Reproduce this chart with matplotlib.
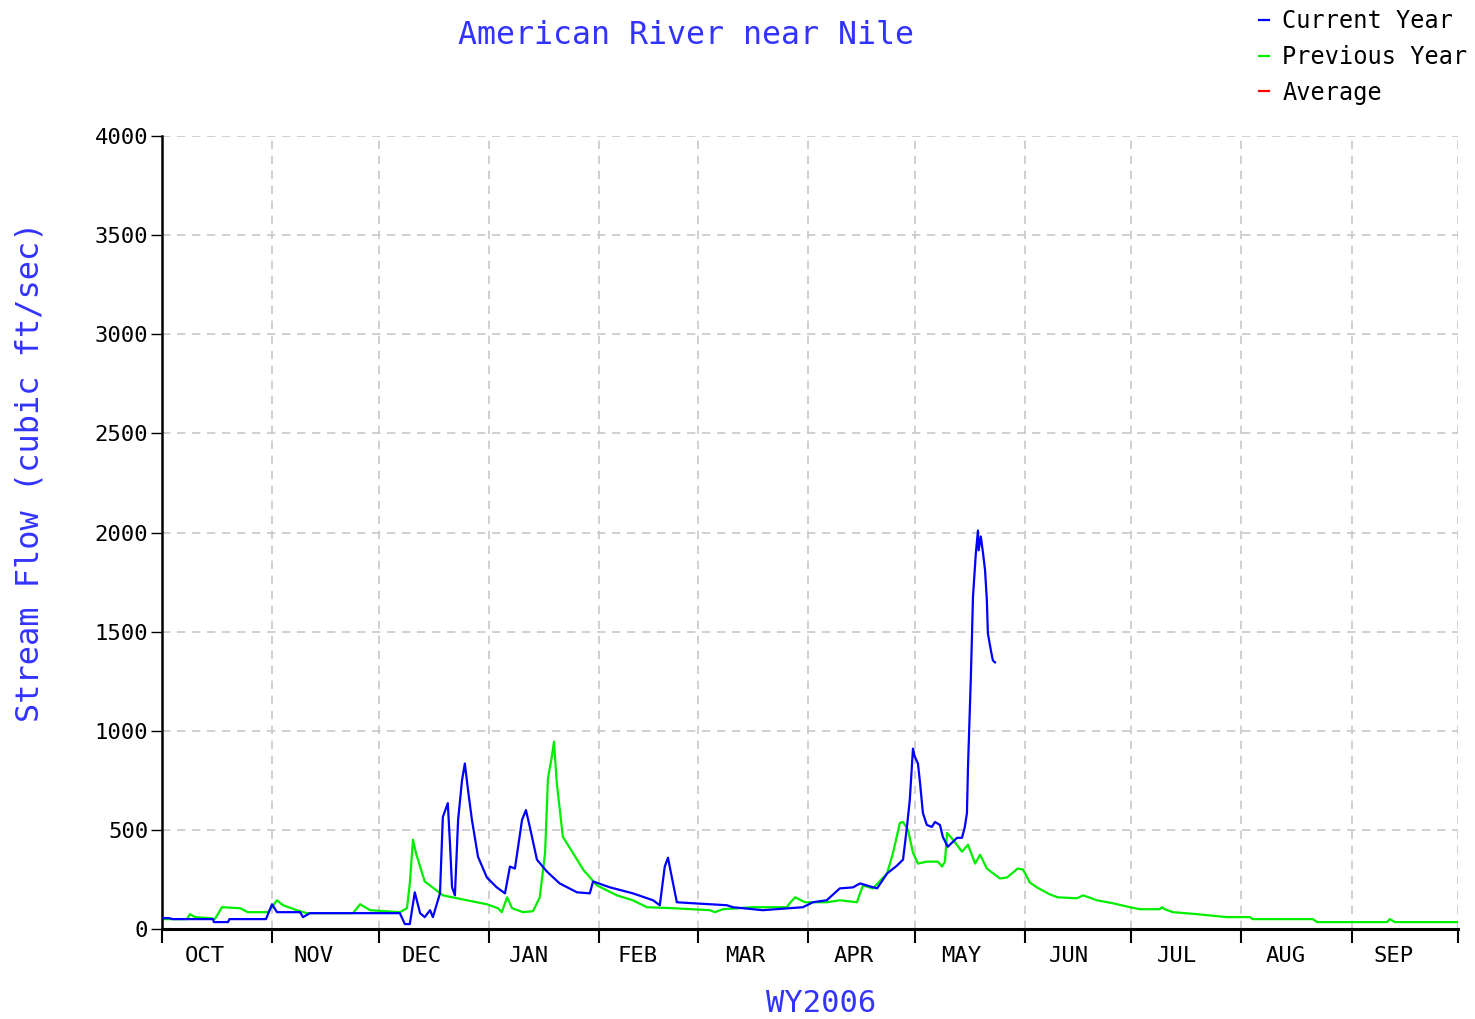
import numpy as np
import matplotlib
matplotlib.use("Agg")
import matplotlib.pyplot as plt

# water-year day (0 = Oct 1) and flow in cfs
cur_day = [0, 2, 3, 14.4, 14.6, 18.6, 19, 29.3, 31, 32.4, 38.9, 39.7, 41.7, 55.8, 67,
           68.4, 69.8, 71.2, 72.7, 74, 75.5, 76.3, 78.3, 79.1, 80.5, 81.1, 81.7, 82.5,
           83.4, 84.5, 85.3, 86.2, 87.3, 89, 91.5, 94.3, 96.6, 98, 99.4, 101.4, 102.5,
           103.6, 105.6, 108.4, 112, 116.9, 120.5, 121.4, 126.2, 132.6, 138.3, 140.2,
           141.6, 142.5, 143.6, 145, 149.5, 159.1, 160.8, 169.2, 180.5, 183.3, 187.2,
           190.9, 194.6, 196.6, 199.4, 201.4, 204.2, 207, 208.7, 209.8, 210.6, 211.5,
           212, 212.9, 213.5, 214.3, 215.4, 216.8, 217.7, 219.1, 219.9, 221.3, 223.9,
           225.3, 226.1, 226.7, 227, 227.8, 228.4, 229.2, 229.8, 230, 230.6, 231.2,
           231.8, 232.3, 232.6, 233.5, 234, 234.6]
cur_flow = [55, 55, 50, 50, 35, 35, 50, 50, 125, 85, 85, 60, 80, 80, 80,
            25, 25, 185, 80, 60, 95, 60, 180, 565, 635, 435, 210, 170,
            550, 750, 835, 700, 550, 365, 260, 210, 180, 315, 305, 550, 600,
            515, 350, 290, 230, 185, 180, 240, 210, 180, 145, 120,
            315, 360, 260, 135, 130, 120, 110, 95, 110, 135, 145,
            205, 210, 230, 215, 205, 280, 320, 350, 515, 650, 910,
            870, 835, 735, 585, 525, 515, 540, 525, 465, 415, 460,
            460, 515, 585, 820, 1270, 1675, 1895, 2010, 1910, 1980, 1900,
            1810, 1660, 1490, 1400, 1355, 1345]

prev_day = [0, 7, 7.9, 9.3, 13.5, 14.9, 16.9, 22, 24.2, 29.9, 32.4, 34.1, 38, 40.8,
            53.8, 55.8, 57.2, 58.6, 67, 69, 69.8, 70.7, 71.5, 72.7, 74, 75.5, 79.1,
            85.9, 91.5, 94.6, 95.7, 97.2, 98.6, 101.7, 104.5, 106.4, 107.9, 108.7,
            109.8, 110.4, 111.2, 112.9, 115.7, 118.6, 122.5, 128.1, 132.6, 136.6,
            143.9, 154.3, 155.7, 158, 166.4, 176, 176.8, 178.3, 181.1, 187.3, 190.9,
            195.7, 197.4, 200.2, 204.2, 205.9, 207.8, 208.7, 210.1, 211.5, 212.9,
            215.4, 218.5, 219.7, 220.5, 221.1, 222.8, 225.3, 227, 229, 230.4, 232.3,
            236, 238, 241, 242.5, 244.4, 246.4, 250, 252.3, 257.7, 259.4, 263.3,
            267.8, 272.6, 275.4, 281, 281.6, 282.4, 284.7, 291.5, 299.9, 306.4,
            307.2, 324.1, 325.3, 345, 345.8, 347.2, 365]
prev_flow = [50, 50, 75, 60, 55, 50, 110, 105, 85, 85, 145, 120, 95, 80,
             80, 125, 110, 95, 85, 105, 230, 450, 385, 315, 240, 220, 170,
             145, 125, 105, 85, 160, 105, 85, 90, 160, 385, 760,
             870, 945, 735, 465, 385, 300, 220, 170, 145, 110,
             105, 95, 85, 100, 110, 110, 130, 160, 135, 135, 145,
             135, 220, 205, 280, 385, 535, 540, 500, 385, 330,
             340, 340, 315, 340, 485, 450, 390, 425, 330, 375, 305,
             255, 260, 305, 300, 235, 210, 175, 160, 155, 170, 145,
             130, 110, 100, 100, 110, 100, 85, 75, 60, 60,
             50, 50, 35, 35, 50, 35, 35]

avg_day = []
avg_flow = []

months = ["OCT", "NOV", "DEC", "JAN", "FEB", "MAR", "APR", "MAY", "JUN", "JUL", "AUG", "SEP"]
month_start = [0, 31, 61, 92, 123, 151, 182, 212, 243, 273, 304, 335, 365]

mono = "DejaVu Sans Mono"
blue_txt = "#3333ff"
fig = plt.figure(figsize=(14.75, 10.19), dpi=100)
ax = fig.add_axes([0.1098, 0.0883, 0.8787, 0.7782])

ax.plot(cur_day, cur_flow, color="#0000ff", lw=1.6, label="Current Year", zorder=3)
ax.plot(prev_day, prev_flow, color="#00ee00", lw=1.6, label="Previous Year", zorder=2)
ax.plot(avg_day, avg_flow, color="#ff0000", lw=1.6, label="Average")

ax.set_xlim(0, 365)
ax.set_ylim(0, 4000)
ax.set_yticks(np.arange(0, 4001, 500))
ax.set_xticks(month_start)
ax.set_xticklabels([])
# month names are spread evenly along the axis
ax.set_xticks(np.linspace(365 / 12 * 0.4, 365 - 365 / 12 * 0.6, 12), minor=True)
ax.set_xticklabels(months, minor=True, fontsize=16, family=mono)
ax.tick_params(axis="x", which="minor", length=0, pad=12)
ax.tick_params(axis="x", which="major", length=10, width=1.5, direction="out")
ax.tick_params(axis="y", length=8, width=1, labelsize=16, pad=2)
for lab in ax.get_yticklabels():
    lab.set_family(mono)

ax.grid(True, which="major", color="#c8c8c8", linestyle=(0, (5, 4)), linewidth=1.2)
for s in ["top", "right"]:
    ax.spines[s].set_visible(False)
ax.spines["left"].set_linewidth(1.8)
ax.spines["bottom"].set_linewidth(2.2)

fig.text(0.0203, 0.537, "Stream Flow (cubic ft/sec)", color=blue_txt, fontsize=23,
         family=mono, rotation=90, ha="center", va="center")
fig.text(0.557, 0.0157, "WY2006", color=blue_txt, fontsize=22, family=mono,
         ha="center", va="center")
fig.text(0.465, 0.965, "American River near Nile", color=blue_txt, fontsize=22.8,
         family=mono, ha="center", va="center")

leg = fig.legend(loc="upper left", bbox_to_anchor=(0.839, 1.012), frameon=False,
                 handlelength=0.45, handletextpad=0.55, labelspacing=0.5,
                 prop={"family": mono, "size": 17})

fig.savefig("out.png", dpi=100)
